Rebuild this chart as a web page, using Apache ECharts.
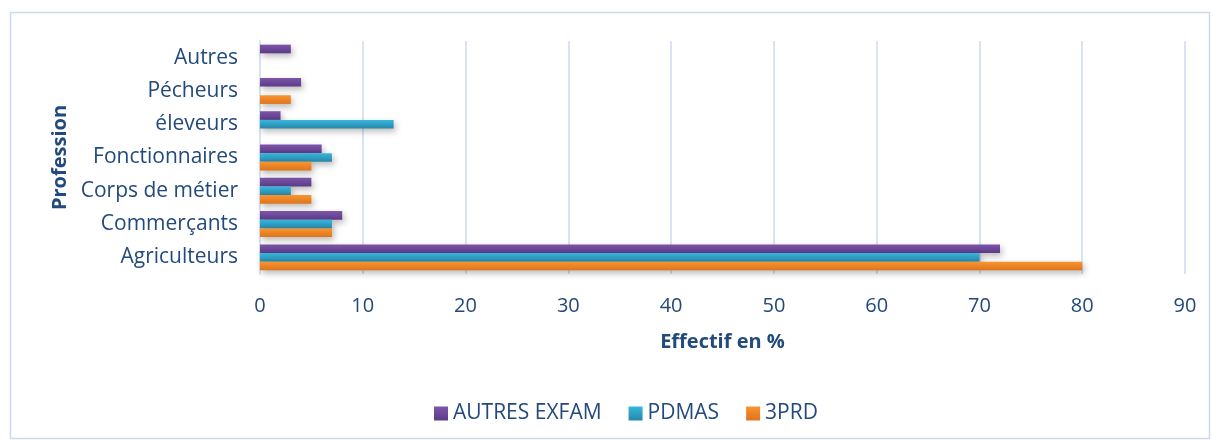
<!DOCTYPE html>
<html><head><meta charset="utf-8">
<script src="https://cdn.jsdelivr.net/npm/echarts@6/dist/echarts.min.js"></script>
<style>html,body{margin:0;padding:0;background:#fff}#c{width:1213px;height:441px}</style>
</head><body><div id="c"></div>
<script>
const categories = ['Agriculteurs','Commerçants','Corps de métier','Fonctionnaires','éleveurs','Pécheurs','Autres'];
const autresExfam = [72, 8, 5, 6, 2, 4, 3];
const pdmas = [70, 7, 3, 7, 13, null, null];
const prd3 = [80, 7, 5, 5, null, 3, null];
const xTicks = [0,10,20,30,40,50,60,70,80,90];

const txt = '#234a7c';
const font = 'Open Sans';
function grad(a,b){return new echarts.graphic.LinearGradient(0,0,0,1,[{offset:0,color:a},{offset:1,color:b}]);}
const shadow = {shadowBlur:6, shadowColor:'rgba(0,0,0,0.28)', shadowOffsetX:2, shadowOffsetY:3};

const chart = echarts.init(document.getElementById('c'), null, {renderer:'canvas'});
chart.setOption({
  animation:false,
  textStyle:{fontFamily:font},
  graphic:[{type:'rect', shape:{x:10.5,y:12.5,width:1199,height:426}, style:{fill:'none', stroke:'#c9dbef', lineWidth:1.5}, silent:true}],
  grid:{left:260, right:28, top:41, bottom:167, containLabel:false},
  xAxis:{type:'value', min:xTicks[0], max:xTicks[xTicks.length-1], interval:10,
    name:'Effectif en %', nameLocation:'middle', nameGap:58,
    nameTextStyle:{fontFamily:font, fontSize:20, fontWeight:'bold', color:txt},
    axisLine:{show:false}, axisTick:{show:false},
    axisLabel:{fontFamily:font, fontSize:20, color:txt, margin:22},
    splitLine:{lineStyle:{color:'#d9e3f1', width:2}}},
  yAxis:{type:'category', data:categories,
    name:'Profession', nameLocation:'middle', nameGap:188, nameRotate:90,
    nameTextStyle:{fontFamily:font, fontSize:20, fontWeight:'bold', color:txt},
    axisLine:{lineStyle:{color:'#d9e3f1', width:2}}, axisTick:{show:false},
    axisLabel:{fontFamily:font, fontSize:21, color:txt, margin:22}},
  legend:{top:398, left:429, itemWidth:14, itemHeight:14, itemGap:27,
    icon:'rect', data:['AUTRES EXFAM','PDMAS','3PRD'],
    textStyle:{fontFamily:font, fontSize:21, color:txt}},
  series:[
    {name:'AUTRES EXFAM', type:'bar', data:autresExfam, barGap:'0%', barCategoryGap:'22%',
     itemStyle:Object.assign({color:grad('#7d56ab','#5c3a86')}, shadow)},
    {name:'PDMAS', type:'bar', data:pdmas, barGap:'0%', barCategoryGap:'22%',
     itemStyle:Object.assign({color:grad('#36b7dc','#2886a8')}, shadow)},
    {name:'3PRD', type:'bar', data:prd3, barGap:'0%', barCategoryGap:'22%',
     itemStyle:Object.assign({color:grad('#fa9430','#dd741c')}, shadow)}
  ]
});
</script></body></html>
